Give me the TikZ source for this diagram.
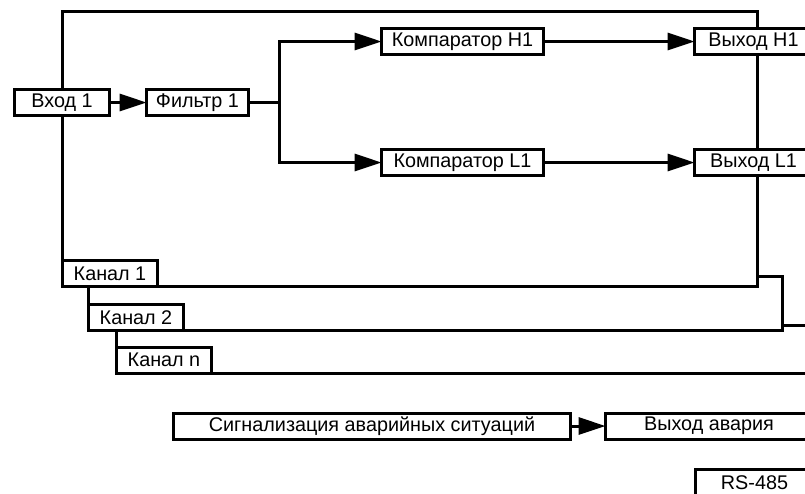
\documentclass[tikz,border=0pt]{standalone}
\usepackage{fontspec}
\setmainfont{Liberation Sans}
\usetikzlibrary{positioning, backgrounds, arrows.meta}

\begin{document}
\begin{tikzpicture}[
  x=1pt, y=-1pt,
  every node/.style={font=\fontsize{19.8}{23}\selectfont, align=center},
  block/.style={rectangle, draw, fill=white, line width=3pt, minimum height=26pt, inner sep=0pt, outer sep=0pt},
  chan/.style={block, minimum width=95pt},
  frame/.style={draw, fill=white, line width=3pt},
  wire/.style={draw, line width=3pt},
  link/.style={wire, -{Triangle[length=27pt, width=17pt]}}
]
\useasboundingbox (0,0) rectangle (805,493);
\clip (0,0) rectangle (805,493);

% channel 1
\node[block, minimum width=95pt] (vhod) at (62,102.5) {Вход 1};
\node[block, minimum width=102pt, right=37pt of vhod] (filtr) {Фильтр 1};
\node[block, minimum width=162pt] (kompH) at (462.5,41.5) {Компаратор H1};
\node[block, minimum width=162pt] (kompL) at (462.5,162.5) {Компаратор L1};
\node[block, minimum width=118pt, right=151pt of kompH] (vyhH) {Выход H1};
\node[block, minimum width=118pt, right=151pt of kompL] (vyhL) {Выход L1};

% channel tabs
\node[chan] (kan1) at (110,273.5) {Канал 1};
\node[chan] (kan2) at (136,317.5) {Канал 2};
\node[chan] (kanN) at (164,360) {Канал n};

% alarm and bus
\node[block, minimum width=397pt] (signal) at (372,426) {Сигнализация аварийных ситуаций};
\node[block, minimum width=207pt, right=35pt of signal] (vyhA) {Выход авария};
\node[block, minimum width=118pt] (rs) at (754.5,482.5) {RS-485};

\coordinate[right=30.5pt of filtr.east] (split);
\coordinate (k1ne) at (757.5,11.5);
\coordinate (k2ne) at (782,276);
\coordinate (knne) at (830,325);

\draw[link] (vhod) -- (filtr);
\draw[wire] (filtr) -- (split);
\draw[link] (split) |- (kompH);
\draw[link] (split) |- (kompL);
\draw[link] (kompH) -- (vyhH);
\draw[link] (kompL) -- (vyhL);
\draw[link] (signal) -- (vyhA);

\begin{scope}[on background layer]
  \clip (0,0) rectangle (805,493);
  \draw[frame] (kanN.south west) rectangle (knne);
  \draw[frame] (kan2.south west) rectangle (k2ne);
  \draw[frame] (kan1.south west) rectangle (k1ne);
\end{scope}
\end{tikzpicture}
\end{document}
